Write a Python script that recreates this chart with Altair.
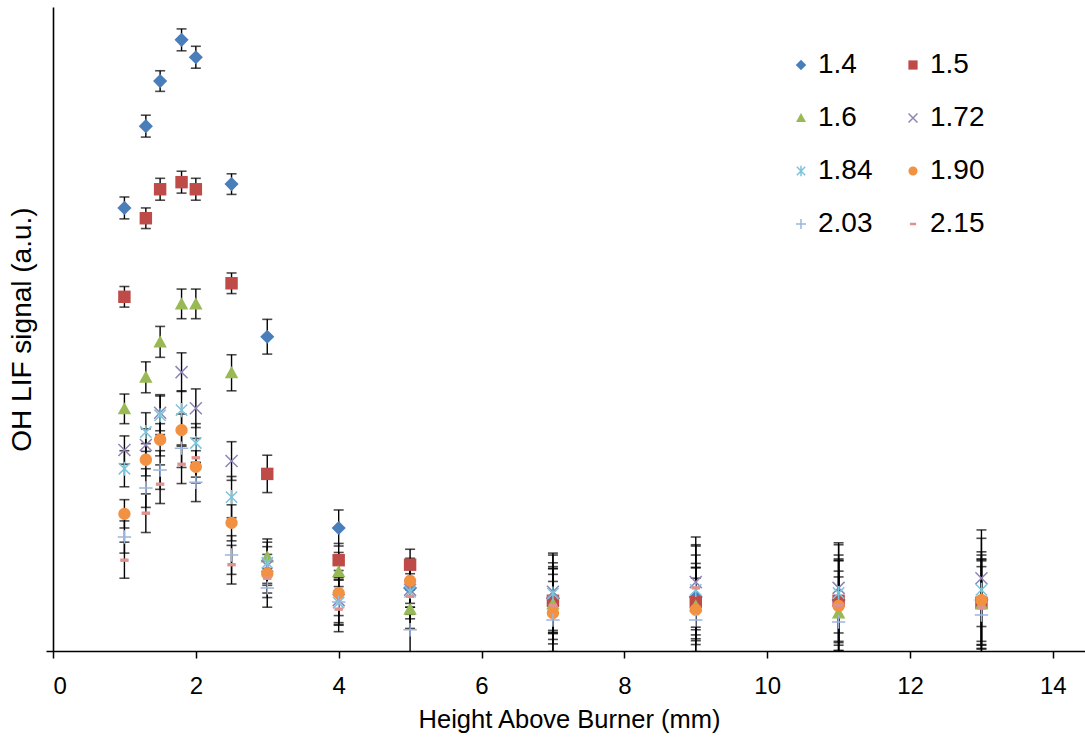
import altair as alt
import pandas as pd

# Height above burner (mm) at which every flame was probed
heights = [1.0, 1.3, 1.5, 1.8, 2.0, 2.5, 3.0, 4.0, 5.0, 7.0, 9.0, 11.0, 13.0]

# Equivalence-ratio series, in legend order
series_names = ["1.4", "1.5", "1.6", "1.72", "1.84", "1.90", "2.03", "2.15"]

# OH LIF signal (a.u.) and its uncertainty for each series
sig_140 = [68.8, 81.5, 88.5, 94.9, 92.2, 72.5, 48.8, 19.1, 9.8, 8.2, 8.4, 7.9, 7.9]
err_140 = [1.7, 1.7, 1.6, 1.7, 1.7, 1.6, 2.7, 2.8, 3.0, 5.5, 6.5, 7.0, 7.0]

sig_150 = [55.0, 67.2, 71.7, 72.8, 71.7, 57.1, 27.5, 14.1, 13.4, 7.8, 7.6, 7.8, 7.5]
err_150 = [1.6, 1.6, 1.7, 1.7, 1.7, 1.6, 2.9, 2.6, 2.4, 5.0, 6.0, 6.5, 6.5]

sig_160 = [37.6, 42.5, 48.0, 53.9, 53.9, 43.2, 14.6, 12.3, 6.5, 7.3, 7.0, 5.9, 7.3]
err_160 = [2.3, 2.4, 2.4, 2.3, 2.3, 2.8, 2.8, 3.0, 3.0, 5.5, 6.0, 6.5, 7.0]

sig_172 = [31.2, 32.0, 37.0, 43.3, 37.7, 29.5, 13.2, 7.9, 9.5, 9.2, 10.7, 9.8, 11.3]
err_172 = [2.2, 2.5, 2.8, 3.0, 3.0, 3.0, 3.0, 3.5, 3.5, 6.0, 7.0, 7.0, 7.5]

sig_184 = [28.3, 34.0, 36.6, 37.4, 32.3, 23.9, 13.7, 7.5, 9.2, 8.9, 9.5, 9.0, 9.5]
err_184 = [2.8, 3.0, 3.0, 3.0, 3.0, 3.2, 3.2, 3.5, 3.5, 6.0, 7.0, 7.5, 8.0]

sig_190 = [21.3, 29.7, 32.8, 34.3, 28.6, 19.9, 12.0, 9.0, 10.9, 5.9, 6.4, 7.0, 7.9]
err_190 = [2.2, 2.5, 2.5, 2.5, 2.5, 2.8, 3.0, 3.5, 3.5, 6.0, 6.5, 7.0, 7.5]

sig_203 = [17.7, 25.3, 28.1, 31.5, 26.2, 14.9, 9.8, 7.6, 3.3, 4.8, 4.8, 4.5, 5.6]
err_203 = [2.5, 3.0, 3.0, 3.0, 3.0, 3.0, 3.0, 3.5, 3.5, 6.0, 6.5, 7.0, 7.5]

sig_215 = [14.1, 21.4, 25.9, 29.0, 30.0, 13.4, 11.3, 6.5, 8.5, 7.1, 9.8, 7.1, 6.7]
err_215 = [2.8, 3.0, 3.0, 3.0, 3.0, 3.0, 3.0, 3.5, 3.5, 6.0, 6.5, 7.0, 7.5]

signals = [sig_140, sig_150, sig_160, sig_172, sig_184, sig_190, sig_203, sig_215]
errors = [err_140, err_150, err_160, err_172, err_184, err_190, err_203, err_215]

# Marker styling per series: filled markers use fill, line markers use stroke
fill_colors = ["#4a7ebb", "#be4b48", "#98b954", "transparent",
               "transparent", "#f39143", "transparent", "#e0928f"]
stroke_colors = ["transparent", "transparent", "transparent", "#8f84b4",
                 "#7cc4dc", "transparent", "#9db4de", "transparent"]
marker_paths = [
    "M0,-1L1,0L0,1L-1,0Z",                                   # diamond
    "M-0.88,-0.88H0.88V0.88H-0.88Z",                          # square
    "M0,-0.95L0.95,0.78L-0.95,0.78Z",                         # triangle
    "M-0.85,-0.85L0.85,0.85M-0.85,0.85L0.85,-0.85",           # x
    "M-0.8,-0.8L0.8,0.8M-0.8,0.8L0.8,-0.8M0,-1L0,1",          # asterisk
    "M0.87,0A0.87,0.87 0 1,1 -0.87,0A0.87,0.87 0 1,1 0.87,0Z",  # circle
    "M-0.95,0L0.95,0M0,-0.95L0,0.95",                         # plus
    "M-0.6,-0.24H0.6V0.24H-0.6Z",                             # dash
]

rows = []
for name, sig, err in zip(series_names, signals, errors):
    for h, s, e in zip(heights, sig, err):
        rows.append({"phi": name, "hab": h, "sig": s, "lo": s - e, "hi": s + e})
df = pd.DataFrame(rows)

FONT = "Liberation Sans"

x_axis = alt.Axis(values=[0, 2, 4, 6, 8, 10, 12, 14], title="Height Above Burner (mm)",
                  grid=False, tickSize=7, labelPadding=16, labelFontSize=24,
                  titleFontSize=25.5, titleFontWeight="normal", titleY=56,
                  labelFont=FONT, titleFont=FONT)
y_axis = alt.Axis(values=[0], labels=False, title="OH LIF signal (a.u.)", grid=False,
                  tickSize=7, titleFontSize=28, titleFontWeight="normal", titleX=-17,
                  titleFont=FONT)

x_scale = alt.Scale(domain=[0, 14.45], nice=False, zero=False)
y_scale = alt.Scale(domain=[0, 100], nice=False)

legend = alt.Legend(orient="none", legendX=734, legendY=44, columns=2, title=None,
                    direction="horizontal",
                    symbolSize=110, symbolStrokeWidth=1.5, labelFontSize=28,
                    labelFont=FONT, labelColor="black", labelOffset=3,
                    rowPadding=25, columnPadding=26, padding=0, labelLimit=200)

base = alt.Chart(df)

bars = base.mark_rule(color="black", strokeWidth=1.4, clip=True).encode(
    x=alt.X("hab:Q", scale=x_scale, axis=x_axis),
    y=alt.Y("lo:Q", scale=y_scale, axis=y_axis),
    y2="hi:Q",
)
caps_lo = base.mark_tick(color="black", thickness=1.6, size=10, orient="horizontal",
                         clip=True).encode(
    x=alt.X("hab:Q", scale=x_scale, axis=x_axis),
    y=alt.Y("lo:Q", scale=y_scale, axis=y_axis),
)
caps_hi = base.mark_tick(color="black", thickness=1.6, size=10, orient="horizontal",
                         clip=True).encode(
    x=alt.X("hab:Q", scale=x_scale, axis=x_axis),
    y=alt.Y("hi:Q", scale=y_scale, axis=y_axis),
)
points = base.mark_point(size=200, strokeWidth=1.5, opacity=1).encode(
    x=alt.X("hab:Q", scale=x_scale, axis=x_axis),
    y=alt.Y("sig:Q", scale=y_scale, axis=y_axis),
    fill=alt.Fill("phi:N", scale=alt.Scale(domain=series_names, range=fill_colors),
                  legend=legend),
    stroke=alt.Stroke("phi:N", scale=alt.Scale(domain=series_names, range=stroke_colors),
                      legend=legend),
    shape=alt.Shape("phi:N", scale=alt.Scale(domain=series_names, range=marker_paths),
                    legend=legend),
)

chart = alt.layer(bars, caps_lo, caps_hi, points).properties(
    width=1032, height=644,
    autosize=alt.AutoSizeParams(type="none"),
    padding={"left": 53, "top": 7, "right": 0, "bottom": 87},
    background="white",
).configure_view(stroke=None).configure_axis(
    domainColor="black", domainWidth=1.6, tickColor="black", tickWidth=1.5,
    labelColor="black", titleColor="black",
)

chart.save("out.html", embed_options={"renderer": "svg", "actions": False})
